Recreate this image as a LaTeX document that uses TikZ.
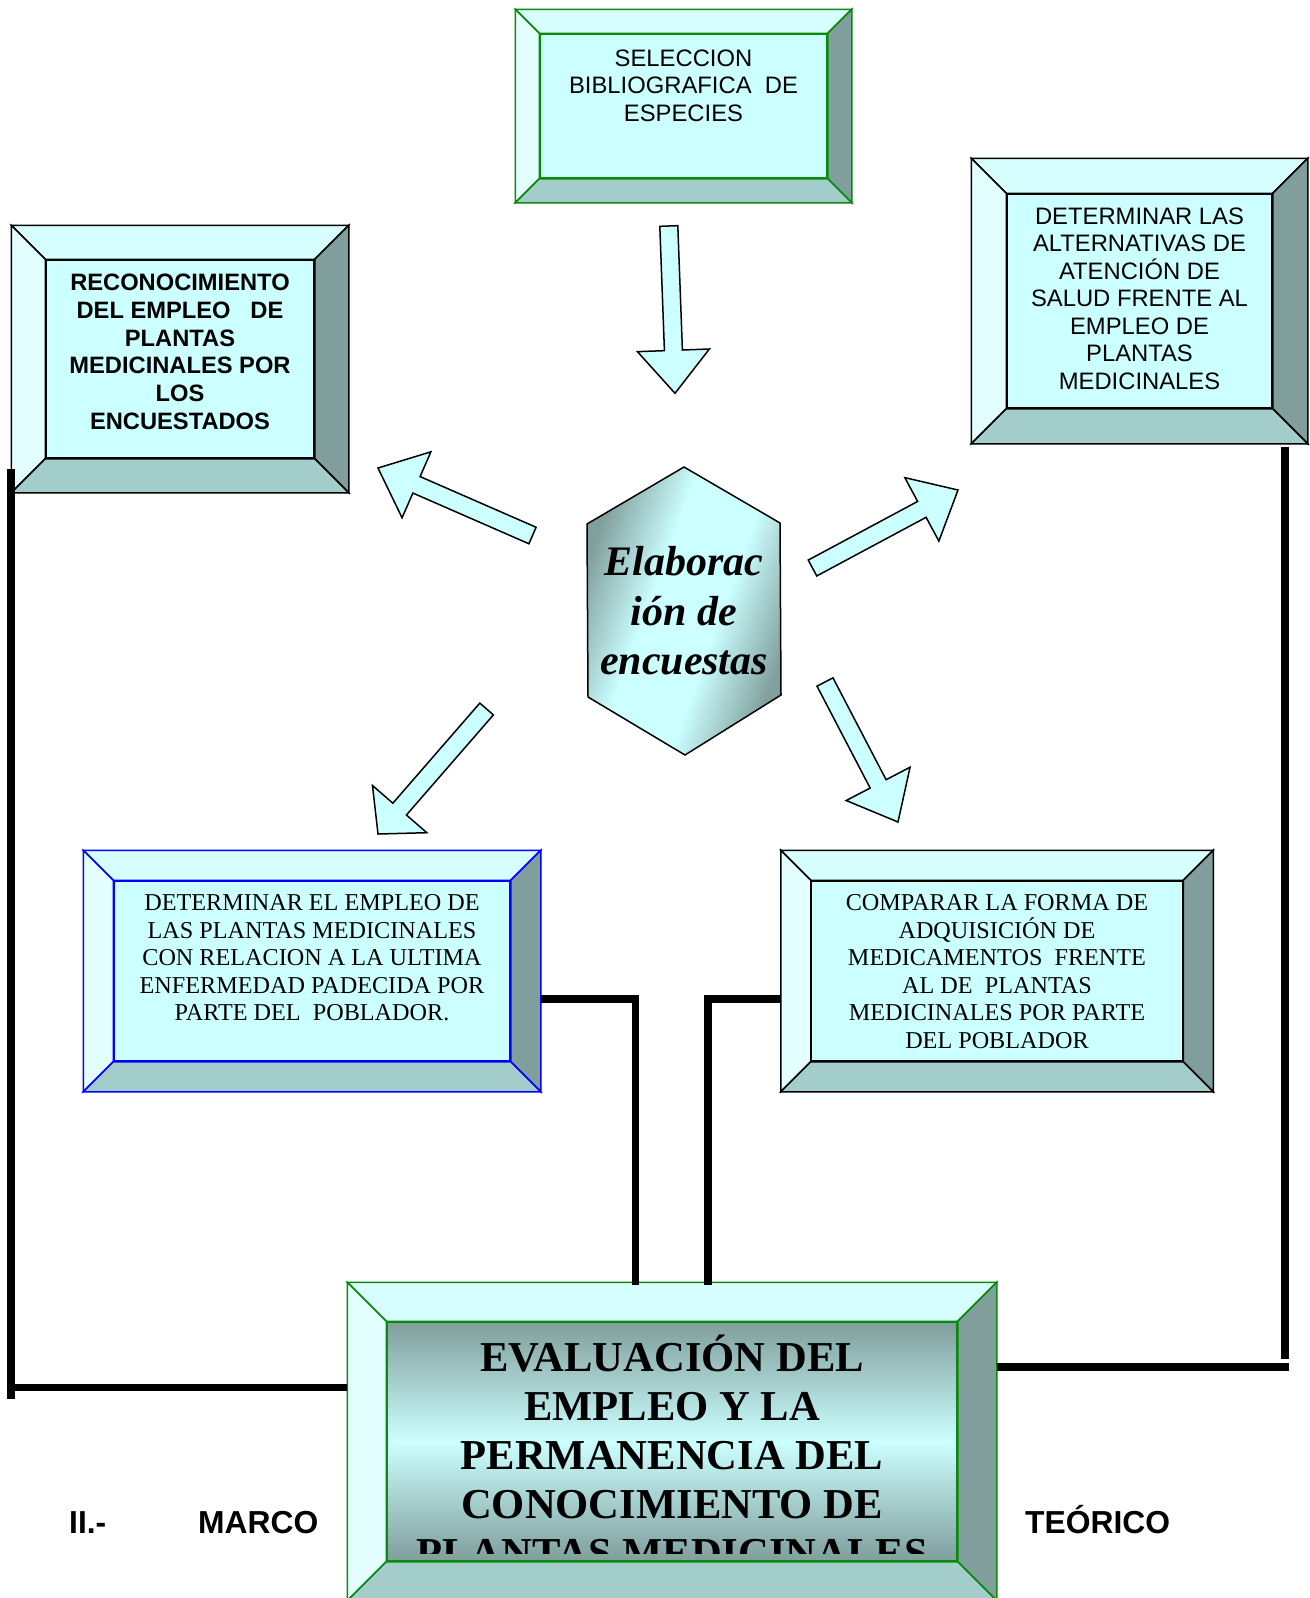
\documentclass[tikz,border=0pt]{standalone}
\usepackage{fontspec}
\setmainfont{Liberation Serif}
\setsansfont{Liberation Sans}
\usetikzlibrary{calc, positioning}

\definecolor{facecyan}{HTML}{CCFFFF}
\definecolor{bevtop}{HTML}{D8FFFF}
\definecolor{bevleft}{HTML}{E4FFFF}
\definecolor{bevright}{HTML}{7F9E9C}
\definecolor{bevbottom}{HTML}{A3CDCB}
\definecolor{shadedark}{HTML}{7F9E9C}
\definecolor{boxgreen}{HTML}{0A8A0A}

\pgfdeclarehorizontalshading{hexgrad}{100bp}{color(0bp)=(shadedark); color(25bp)=(shadedark);
  color(42bp)=(facecyan); color(58bp)=(facecyan); color(75bp)=(shadedark); color(100bp)=(shadedark)}

\tikzset{bev/.style={line width=1.5pt, line join=miter}}

% frame of four slanted strips round a face node
\newcommand{\bevel}[3]{%
  \filldraw[bev, draw=#3, fill=bevtop]
    (#1.north west) -- (#1.north east) -- ++(#2,-#2) -- ($(#1.north west)+(-#2,-#2)$) -- cycle;
  \filldraw[bev, draw=#3, fill=bevleft]
    (#1.north west) -- (#1.south west) -- ++(-#2,#2) -- ($(#1.north west)+(-#2,-#2)$) -- cycle;
  \filldraw[bev, draw=#3, fill=bevright]
    (#1.north east) -- (#1.south east) -- ++(#2,#2) -- ($(#1.north east)+(#2,-#2)$) -- cycle;
  \filldraw[bev, draw=#3, fill=bevbottom]
    (#1.south west) -- (#1.south east) -- ++(#2,#2) -- ($(#1.south west)+(-#2,#2)$) -- cycle;
}

% block arrow from #2 (tail) to #3 (tip), head length #1
\newcommand{\blockarrow}[3][42]{%
  \coordinate (ah) at ($(#3)!#1pt!(#2)$);
  \draw[barrow] ($(#2)!9pt!90:(#3)$) -- ($(ah)!9pt!90:(#3)$) -- ($(ah)!36pt!90:(#3)$) -- (#3)
    -- ($(ah)!36pt!-90:(#3)$) -- ($(ah)!9pt!-90:(#3)$) -- ($(#2)!9pt!-90:(#3)$) -- cycle;
}

\begin{document}
\begin{tikzpicture}[
    x=1pt, y=-1pt,
    face/.style={draw, fill=facecyan, line width=1.5pt, inner sep=0pt},
    sanstxt/.style={font=\sffamily\fontsize{23.8}{27.5}\selectfont, align=center, inner sep=0pt},
    boldtxt/.style={font=\sffamily\bfseries\fontsize{23.7}{27.8}\selectfont, align=center, inner sep=0pt},
    seriftxt/.style={font=\fontsize{24.2}{27.5}\selectfont, align=center, inner sep=0pt},
    bigtxt/.style={font=\bfseries\fontsize{42.6}{49}\selectfont, align=center, inner sep=0pt},
    hextxt/.style={font=\bfseries\itshape\fontsize{42}{49.5}\selectfont, align=center, inner sep=0pt},
    headtxt/.style={font=\sffamily\bfseries\fontsize{31.8}{36}\selectfont, inner sep=0pt, anchor=base west},
    hexshade/.style={draw, line width=1.5pt, shading=hexgrad, shading angle=-20},
    barrow/.style={draw, fill=facecyan, line width=1.5pt, line join=miter},
    wire/.style={line width=7.5pt}
    ]
    \path[use as bounding box, fill=white] (0,0) rectangle (1309,1598);

    % centre
    \coordinate (hc) at (684,611);
    \shadedraw[hexshade] ($(hc)+(0,-144)$) -- ($(hc)+(96,-88)$) -- ($(hc)+(97,84)$)
      -- ($(hc)+(1,144)$) -- ($(hc)+(-96,86)$) -- ($(hc)+(-97,-87)$) -- cycle;
    \node[hextxt] (enc) at (hc) {Elaborac\\ión de\\encuestas};

    % arrows
    \coordinate (p1) at (668.8,226);   \coordinate (q1) at (675,393.3);
    \coordinate (p2) at (532.5,535.5); \coordinate (q2) at (378,468);
    \coordinate (p3) at (812.5,568);   \coordinate (q3) at (958,490);
    \coordinate (p4) at (486.6,709);   \coordinate (q4) at (378,834);
    \coordinate (p5) at (825,682);     \coordinate (q5) at (898,822);
    \blockarrow[43]{p1}{q1}
    \blockarrow[42]{p2}{q2}
    \blockarrow[41]{p3}{q3}
    \blockarrow[33]{p4}{q4}
    \blockarrow[43]{p5}{q5}

    % boxes
    \node[face, draw=boxgreen, minimum width=287pt, minimum height=144pt] (sel)  at (683.5,106) {};
    \node[face, minimum width=268pt, minimum height=198pt]                (rec)  at (180,359) {};
    \node[face, minimum width=265pt, minimum height=214pt]                (alt)  at (1139.5,301) {};
    \node[face, draw=blue, minimum width=396pt, minimum height=180pt]     (det)  at (312,971) {};
    \node[face, minimum width=371pt, minimum height=180pt]                (comp) [right=300pt of det] {};
    \node[face, draw=boxgreen, minimum width=570pt, minimum height=239pt,
      top color=shadedark, bottom color=shadedark, middle color=facecyan] (eval) at (672,1441.5) {};

    \bevel{sel}{24}{boxgreen}
    \bevel{rec}{34}{black}
    \bevel{alt}{35}{black}
    \bevel{det}{30}{blue}
    \bevel{comp}{30}{black}
    \bevel{eval}{39}{boxgreen}

    \node[sanstxt, below=16pt of sel.north]  (selt)  {SELECCION\\BIBLIOGRAFICA\ \ DE\\ESPECIES};
    \node[boldtxt, below=14.5pt of rec.north] (rect) {RECONOCIMIENTO\\DEL EMPLEO\ \ \ DE\\PLANTAS\\MEDICINALES POR\\LOS\\ENCUESTADOS};
    \node[sanstxt, below=14pt of alt.north] (altt) {DETERMINAR LAS\\ALTERNATIVAS DE\\ATENCIÓN DE\\SALUD FRENTE AL\\EMPLEO DE\\PLANTAS\\MEDICINALES};
    \node[seriftxt, below=14.5pt of det.north]  (dett)  {DETERMINAR EL EMPLEO DE\\LAS PLANTAS MEDICINALES\\CON RELACION A LA ULTIMA\\ENFERMEDAD PADECIDA POR\\PARTE DEL\ \ POBLADOR.};
    \node[seriftxt, below=14.5pt of comp.north] (compt) {COMPARAR LA FORMA DE\\ADQUISICIÓN DE\\MEDICAMENTOS\ \ FRENTE\\AL DE\ \ PLANTAS\\MEDICINALES POR PARTE\\DEL POBLADOR};
    \begin{scope}
      \clip (eval.north west) rectangle ($(eval.south east)+(0,-8)$);
      \node[bigtxt, below=13pt of eval.north] (evalt) {EVALUACIÓN DEL\\EMPLEO Y LA\\PERMANENCIA DEL\\CONOCIMIENTO DE\\PLANTAS MEDICINALES};
    \end{scope}

    % lines
    \coordinate (recl)  at ($(rec.south west)+(-34.5,10)$);
    \coordinate (lbot)  at ($(recl)+(0,930)$);
    \coordinate (evall) at ($(eval.west)+(-39,-54)$);
    \draw[wire] (recl) -- (lbot);
    \draw[wire] (recl |- evall) -- (evall);
    \coordinate (altr)  at ($(alt.south east)+(12,38)$);
    \coordinate (evalr) at ($(eval.east)+(39,-74.5)$);
    \draw[wire] (altr) -- ($(altr)+(0,912)$);
    \draw[wire] (evalr) -- ($(altr |- evalr)+(4,0)$);
    \draw[wire] ($(det.east)+(30,28)$) -| ($(eval.north)+(-36.5,-36)$);
    \draw[wire] ($(comp.west)+(-30,28)$) -| ($(eval.north)+(36,-36)$);

    % heading
    \node[headtxt] (ii)      at (69,1533)   {II.-};
    \node[headtxt] (marco)   at (198,1533)  {MARCO};
    \node[headtxt] (teorico) at (1025,1533) {TEÓRICO};
\end{tikzpicture}
\end{document}
